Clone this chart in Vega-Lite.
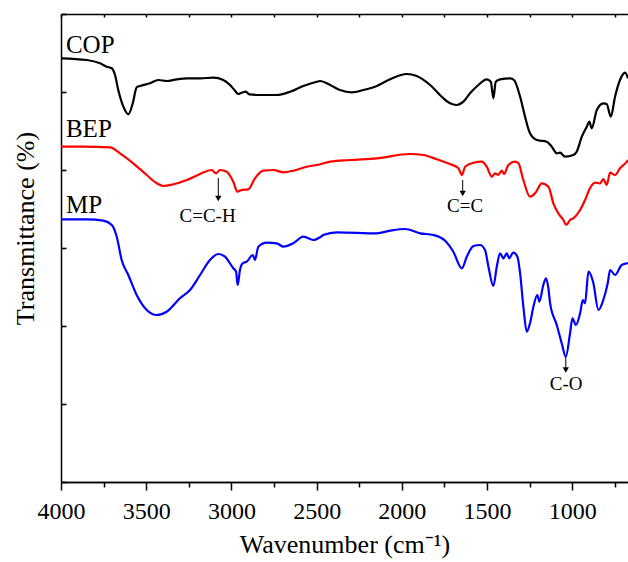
{
  "$schema": "https://vega.github.io/schema/vega-lite/v6.json",
  "autosize": {"type": "none"},
  "padding": {"left": 61, "top": 14, "right": 0, "bottom": 80},
  "width": 567,
  "height": 468,
  "background": "white",
  "config": {
    "view": {"stroke": null},
    "axis": {"domainColor": "black", "domainWidth": 1.5, "tickColor": "black", "tickWidth": 1.5, "grid": false, "labelFont": "Liberation Serif", "titleFont": "Liberation Serif", "labelColor": "black", "titleColor": "black", "titleFontWeight": "normal"}
  },
  "datasets": {
    "spectra": [
      {"s":"COP","wn":4000,"t":423.7},{"s":"COP","wn":3849,"t":422},{"s":"COP","wn":3771,"t":418.7},{"s":"COP","wn":3732,"t":415.3},{"s":"COP","wn":3702,"t":413.7},{"s":"COP","wn":3683,"t":407},{"s":"COP","wn":3664,"t":392},{"s":"COP","wn":3634,"t":375.3},{"s":"COP","wn":3605,"t":367.7},{"s":"COP","wn":3579,"t":378.7},{"s":"COP","wn":3556,"t":394.7},{"s":"COP","wn":3536,"t":396},{"s":"COP","wn":3478,"t":398.7},{"s":"COP","wn":3429,"t":402},{"s":"COP","wn":3380,"t":401},{"s":"COP","wn":3321,"t":402.7},{"s":"COP","wn":3262,"t":403.7},{"s":"COP","wn":3184,"t":403.7},{"s":"COP","wn":3106,"t":404.3},{"s":"COP","wn":3048,"t":402},{"s":"COP","wn":3008,"t":397},{"s":"COP","wn":2979,"t":391.3},{"s":"COP","wn":2960,"t":388},{"s":"COP","wn":2940,"t":389.3},{"s":"COP","wn":2916,"t":390.3},{"s":"COP","wn":2895,"t":387.7},{"s":"COP","wn":2832,"t":387},{"s":"COP","wn":2734,"t":387},{"s":"COP","wn":2656,"t":390.3},{"s":"COP","wn":2578,"t":396},{"s":"COP","wn":2499,"t":400.3},{"s":"COP","wn":2480,"t":401},{"s":"COP","wn":2421,"t":397},{"s":"COP","wn":2363,"t":392},{"s":"COP","wn":2294,"t":389.7},{"s":"COP","wn":2226,"t":392},{"s":"COP","wn":2147,"t":396},{"s":"COP","wn":2069,"t":402.7},{"s":"COP","wn":1971,"t":408},{"s":"COP","wn":1913,"t":406},{"s":"COP","wn":1834,"t":397},{"s":"COP","wn":1766,"t":385.3},{"s":"COP","wn":1717,"t":378.7},{"s":"COP","wn":1678,"t":377},{"s":"COP","wn":1639,"t":380.3},{"s":"COP","wn":1600,"t":388.7},{"s":"COP","wn":1551,"t":397},{"s":"COP","wn":1502,"t":402.7},{"s":"COP","wn":1478,"t":400.3},{"s":"COP","wn":1463,"t":383.7},{"s":"COP","wn":1449,"t":400.3},{"s":"COP","wn":1424,"t":402.7},{"s":"COP","wn":1365,"t":403.7},{"s":"COP","wn":1342,"t":402},{"s":"COP","wn":1306,"t":385.3},{"s":"COP","wn":1277,"t":365.3},{"s":"COP","wn":1248,"t":348.7},{"s":"COP","wn":1208,"t":342},{"s":"COP","wn":1150,"t":340.3},{"s":"COP","wn":1120,"t":335.3},{"s":"COP","wn":1091,"t":328.7},{"s":"COP","wn":1072,"t":329.3},{"s":"COP","wn":1042,"t":325.3},{"s":"COP","wn":994,"t":327},{"s":"COP","wn":974,"t":330.3},{"s":"COP","wn":944,"t":345.3},{"s":"COP","wn":915,"t":355.3},{"s":"COP","wn":900,"t":360.3},{"s":"COP","wn":886,"t":353.7},{"s":"COP","wn":856,"t":372},{"s":"COP","wn":818,"t":378.7},{"s":"COP","wn":798,"t":378},{"s":"COP","wn":774,"t":365.3},{"s":"COP","wn":749,"t":385.3},{"s":"COP","wn":720,"t":402},{"s":"COP","wn":690,"t":409.3},{"s":"COP","wn":673,"t":403.7},
      {"s":"BEP","wn":4000,"t":335.3},{"s":"BEP","wn":3869,"t":335.3},{"s":"BEP","wn":3712,"t":334.7},{"s":"BEP","wn":3654,"t":328.7},{"s":"BEP","wn":3576,"t":318.7},{"s":"BEP","wn":3497,"t":307},{"s":"BEP","wn":3438,"t":298.7},{"s":"BEP","wn":3400,"t":296},{"s":"BEP","wn":3341,"t":297.7},{"s":"BEP","wn":3262,"t":302},{"s":"BEP","wn":3184,"t":308},{"s":"BEP","wn":3116,"t":312},{"s":"BEP","wn":3090,"t":308.7},{"s":"BEP","wn":3067,"t":312},{"s":"BEP","wn":3028,"t":310.3},{"s":"BEP","wn":2989,"t":300.3},{"s":"BEP","wn":2965,"t":290.3},{"s":"BEP","wn":2940,"t":292},{"s":"BEP","wn":2901,"t":292.7},{"s":"BEP","wn":2862,"t":303.7},{"s":"BEP","wn":2813,"t":311.3},{"s":"BEP","wn":2754,"t":312},{"s":"BEP","wn":2695,"t":309.7},{"s":"BEP","wn":2637,"t":311.3},{"s":"BEP","wn":2558,"t":315.3},{"s":"BEP","wn":2499,"t":317},{"s":"BEP","wn":2421,"t":320.3},{"s":"BEP","wn":2304,"t":322},{"s":"BEP","wn":2147,"t":323.7},{"s":"BEP","wn":1952,"t":328},{"s":"BEP","wn":1874,"t":327},{"s":"BEP","wn":1795,"t":322.7},{"s":"BEP","wn":1717,"t":318},{"s":"BEP","wn":1668,"t":313.7},{"s":"BEP","wn":1647,"t":307},{"s":"BEP","wn":1629,"t":315.3},{"s":"BEP","wn":1580,"t":319.3},{"s":"BEP","wn":1531,"t":320.3},{"s":"BEP","wn":1502,"t":315.3},{"s":"BEP","wn":1472,"t":305.3},{"s":"BEP","wn":1453,"t":308.7},{"s":"BEP","wn":1434,"t":307},{"s":"BEP","wn":1414,"t":311.3},{"s":"BEP","wn":1400,"t":308},{"s":"BEP","wn":1375,"t":317},{"s":"BEP","wn":1336,"t":320.3},{"s":"BEP","wn":1316,"t":318.7},{"s":"BEP","wn":1287,"t":302},{"s":"BEP","wn":1248,"t":285.3},{"s":"BEP","wn":1218,"t":288.7},{"s":"BEP","wn":1179,"t":298.7},{"s":"BEP","wn":1140,"t":295.3},{"s":"BEP","wn":1111,"t":278.7},{"s":"BEP","wn":1082,"t":268.7},{"s":"BEP","wn":1052,"t":262},{"s":"BEP","wn":1036,"t":257},{"s":"BEP","wn":1013,"t":262},{"s":"BEP","wn":994,"t":263.7},{"s":"BEP","wn":954,"t":272},{"s":"BEP","wn":925,"t":282},{"s":"BEP","wn":896,"t":293.7},{"s":"BEP","wn":866,"t":299.3},{"s":"BEP","wn":837,"t":298.7},{"s":"BEP","wn":818,"t":303},{"s":"BEP","wn":798,"t":297},{"s":"BEP","wn":778,"t":309.3},{"s":"BEP","wn":749,"t":307},{"s":"BEP","wn":720,"t":313.7},{"s":"BEP","wn":680,"t":320.3},{"s":"BEP","wn":673,"t":322},
      {"s":"MP","wn":4000,"t":262.7},{"s":"MP","wn":3849,"t":262.7},{"s":"MP","wn":3752,"t":261.3},{"s":"MP","wn":3702,"t":257},{"s":"MP","wn":3673,"t":245.3},{"s":"MP","wn":3644,"t":222},{"s":"MP","wn":3605,"t":207},{"s":"MP","wn":3556,"t":187},{"s":"MP","wn":3497,"t":172},{"s":"MP","wn":3438,"t":167},{"s":"MP","wn":3380,"t":170.3},{"s":"MP","wn":3302,"t":183.7},{"s":"MP","wn":3243,"t":192},{"s":"MP","wn":3184,"t":207},{"s":"MP","wn":3126,"t":222},{"s":"MP","wn":3077,"t":228},{"s":"MP","wn":3038,"t":225.3},{"s":"MP","wn":2989,"t":213.7},{"s":"MP","wn":2973,"t":210.3},{"s":"MP","wn":2963,"t":197},{"s":"MP","wn":2950,"t":212},{"s":"MP","wn":2934,"t":218.7},{"s":"MP","wn":2910,"t":220.3},{"s":"MP","wn":2875,"t":227},{"s":"MP","wn":2862,"t":222},{"s":"MP","wn":2842,"t":235.3},{"s":"MP","wn":2793,"t":239.3},{"s":"MP","wn":2734,"t":238.7},{"s":"MP","wn":2695,"t":235.3},{"s":"MP","wn":2637,"t":238.7},{"s":"MP","wn":2578,"t":245.3},{"s":"MP","wn":2519,"t":242},{"s":"MP","wn":2480,"t":244.7},{"s":"MP","wn":2461,"t":247},{"s":"MP","wn":2382,"t":249.7},{"s":"MP","wn":2147,"t":248.7},{"s":"MP","wn":2069,"t":251.3},{"s":"MP","wn":1981,"t":253},{"s":"MP","wn":1893,"t":248.7},{"s":"MP","wn":1815,"t":247},{"s":"MP","wn":1746,"t":241.3},{"s":"MP","wn":1698,"t":230.3},{"s":"MP","wn":1648,"t":213.7},{"s":"MP","wn":1619,"t":225.3},{"s":"MP","wn":1580,"t":236},{"s":"MP","wn":1541,"t":237},{"s":"MP","wn":1512,"t":232},{"s":"MP","wn":1492,"t":215.3},{"s":"MP","wn":1463,"t":196},{"s":"MP","wn":1443,"t":215.3},{"s":"MP","wn":1424,"t":228.7},{"s":"MP","wn":1404,"t":223.7},{"s":"MP","wn":1384,"t":228.7},{"s":"MP","wn":1371,"t":223.7},{"s":"MP","wn":1346,"t":229.3},{"s":"MP","wn":1322,"t":225.3},{"s":"MP","wn":1306,"t":208.7},{"s":"MP","wn":1287,"t":175.3},{"s":"MP","wn":1267,"t":150.3},{"s":"MP","wn":1248,"t":158.7},{"s":"MP","wn":1228,"t":175.3},{"s":"MP","wn":1205,"t":187},{"s":"MP","wn":1193,"t":180.3},{"s":"MP","wn":1170,"t":197},{"s":"MP","wn":1154,"t":203.7},{"s":"MP","wn":1140,"t":193.7},{"s":"MP","wn":1130,"t":178.7},{"s":"MP","wn":1091,"t":157},{"s":"MP","wn":1062,"t":138.7},{"s":"MP","wn":1038,"t":125.3},{"s":"MP","wn":1013,"t":148.7},{"s":"MP","wn":999,"t":163.7},{"s":"MP","wn":979,"t":157},{"s":"MP","wn":954,"t":168.7},{"s":"MP","wn":938,"t":182},{"s":"MP","wn":925,"t":178.7},{"s":"MP","wn":905,"t":210.3},{"s":"MP","wn":876,"t":198.7},{"s":"MP","wn":847,"t":172},{"s":"MP","wn":818,"t":182},{"s":"MP","wn":792,"t":198.7},{"s":"MP","wn":778,"t":212},{"s":"MP","wn":749,"t":207},{"s":"MP","wn":710,"t":217},{"s":"MP","wn":680,"t":218.7},{"s":"MP","wn":673,"t":219}
    ],
    "serieslabels": [
      {"label":"COP","wn":3971,"t":429},
      {"label":"BEP","wn":3971,"t":345},
      {"label":"MP","wn":3971,"t":269}
    ],
    "peaklabels": [
      {"label":"C=C-H","wn":3140,"t":260.3},
      {"label":"C=C","wn":1629,"t":270.3},
      {"label":"C-O","wn":1036,"t":92}
    ],
    "arrows": [
      {"wn":3077,"t1":304,"t2":285,"head":283.5},
      {"wn":1643,"t1":302,"t2":290,"head":288.5},
      {"wn":1038,"t1":125.3,"t2":114,"head":112}
    ]
  },
  "layer": [
    {
      "data": {"name": "spectra"},
      "mark": {"type": "line", "strokeWidth": 2.2, "clip": true, "interpolate": "monotone"},
      "encoding": {
        "x": {"field": "wn", "type": "quantitative",
              "scale": {"domain": [673, 4000], "reverse": true, "nice": false, "zero": false},
              "axis": {"orient": "bottom", "values": [4000,3500,3000,2500,2000,1500,1000], "format": "d", "tickSize": 8, "labelFont": "Liberation Serif", "labelFontSize": 24, "labelBaseline": "alphabetic", "labelPadding": 28, "labelFlush": false, "labelOverlap": false, "title": "Wavenumber (cm⁻¹)", "titleFont": "Liberation Serif", "titleFontSize": 26, "titleBaseline": "alphabetic", "titleY": 70}},
        "y": {"field": "t", "type": "quantitative",
              "scale": {"domain": [0, 468], "nice": false, "zero": false},
              "axis": {"orient": "left", "values": [0,39,78,117,156,195,234,273,312,351,390,429,468], "tickSize": -5, "tickWidth": 1.6, "labels": false, "title": "Transmittance (%)", "titleFont": "Liberation Serif", "titleFontSize": 26, "titleBaseline": "alphabetic", "titleAngle": -90, "titleX": -28, "titleY": 214}},
        "color": {"field": "s", "type": "nominal", "scale": {"domain": ["COP","BEP","MP"], "range": ["#000000","#ff0000","#0000ff"]}, "legend": null},
        "detail": {"field": "s"}
      }
    },
    {
      "data": {"name": "serieslabels"},
      "mark": {"type": "text", "font": "Liberation Serif", "fontSize": 25, "align": "left", "baseline": "alphabetic", "color": "black"},
      "encoding": {
        "x": {"field": "wn", "type": "quantitative",
              "axis": {"orient": "bottom", "values": [3750,3250,2750,2250,1750,1250,750], "tickSize": 5, "labels": false, "title": null}},
        "y": {"field": "t", "type": "quantitative"},
        "text": {"field": "label"}
      }
    },
    {
      "data": {"name": "peaklabels"},
      "mark": {"type": "text", "font": "Liberation Serif", "fontSize": 19, "align": "center", "baseline": "alphabetic", "color": "black"},
      "encoding": {
        "x": {"field": "wn", "type": "quantitative", "axis": null},
        "y": {"field": "t", "type": "quantitative"},
        "text": {"field": "label"}
      }
    },
    {
      "data": {"name": "arrows"},
      "mark": {"type": "rule", "color": "black", "strokeWidth": 1},
      "encoding": {
        "x": {"field": "wn", "type": "quantitative",
              "axis": {"orient": "top", "values": [4000,3750,3500,3250,3000,2750,2500,2250,2000,1750,1500,1250,1000,750], "tickSize": -3, "labels": false, "title": null}},
        "y": {"field": "t1", "type": "quantitative"},
        "y2": {"field": "t2"}
      }
    },
    {
      "data": {"name": "arrows"},
      "mark": {"type": "point", "shape": "triangle-down", "filled": true, "color": "black", "size": 40, "opacity": 1},
      "encoding": {
        "x": {"field": "wn", "type": "quantitative", "axis": null},
        "y": {"field": "head", "type": "quantitative"}
      }
    }
  ],
  "resolve": {"axis": {"x": "independent"}}
}
